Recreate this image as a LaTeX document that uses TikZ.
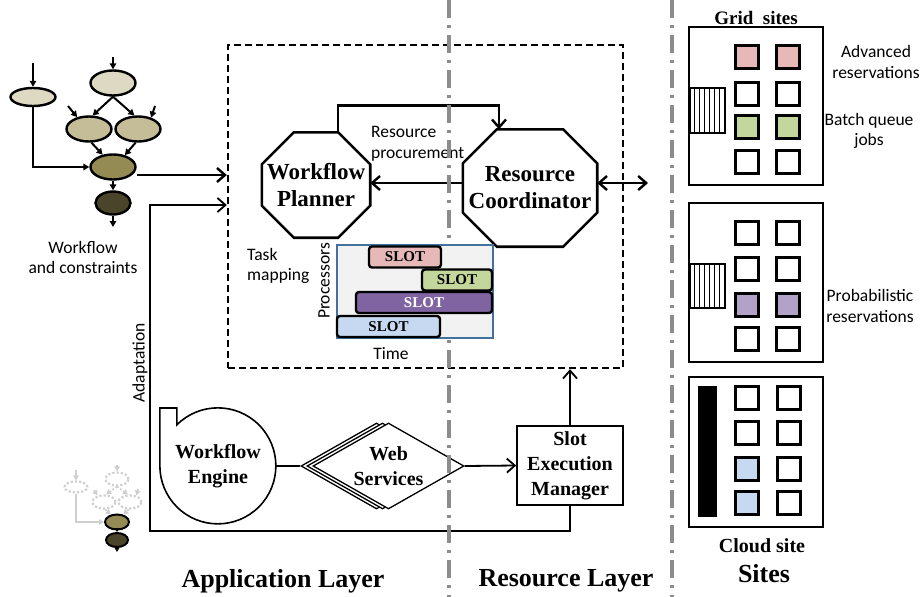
\documentclass[tikz,border=0pt]{standalone}
\usepackage{fontspec}
\setmainfont{Liberation Serif}
\newfontfamily\calibrifont{Carlito}
\usepackage{xcolor}
\usetikzlibrary{arrows.meta,positioning,calc,shapes.geometric}
\definecolor{slotpink}{HTML}{E6B9B8}
\definecolor{slotgreen}{HTML}{C3D69B}
\definecolor{slotpurple}{HTML}{8064A2}
\definecolor{slotblue}{HTML}{C6D9F1}
\definecolor{lightpurple}{HTML}{B3A2C7}
\definecolor{chartbg}{HTML}{F2F2F2}
\definecolor{chartframe}{HTML}{41719C}
\definecolor{layergray}{HTML}{8C8C8C}
\definecolor{beigeA}{HTML}{DDD9C3}
\definecolor{beigeB}{HTML}{C4BD97}
\definecolor{olive}{HTML}{948A54}
\definecolor{darkolive}{HTML}{4A452A}
\definecolor{ghostgray}{HTML}{CFCFCF}
% octagon outline round a rectangular node
\newcommand{\octframe}[2]{\draw[octline] ([xshift=#2]#1.north west) -- ([xshift=-#2]#1.north east) -- ([yshift=-#2]#1.north east) -- ([yshift=#2]#1.south east) -- ([xshift=-#2]#1.south east) -- ([xshift=#2]#1.south west) -- ([yshift=#2]#1.south west) -- ([yshift=-#2]#1.north west) -- cycle;}

\begin{document}
\begin{tikzpicture}[x=1pt,y=-1pt,>={Straight Barb[length=8pt,width=14pt]},
 sans/.style={font={\calibrifont\fontsize{17.5}{20.5}\selectfont},align=center,inner sep=0pt},
 heavy/.style={font={\bfseries\fontsize{20}{25}\selectfont},align=center},
 octnode/.style={font={\bfseries\fontsize{23}{27}\selectfont},align=center,inner sep=0pt},
 octline/.style={line width=2.6pt,line join=miter},
 layertext/.style={font={\bfseries\fontsize{26}{30}\selectfont},inner sep=0pt},
 layerline/.style={draw=layergray,line width=3.5pt,dash pattern=on 18pt off 7pt on 3pt off 7pt},
 planframe/.style={draw,line width=2.4pt,dash pattern=on 7pt off 4pt,inner sep=0pt},
 arr/.style={->,line width=2.4pt},
 arrthin/.style={->,line width=1.8pt},
 dagnode/.style={ellipse,draw,line width=2.4pt,inner sep=0pt,minimum width=45pt,minimum height=25pt},
 dagarr/.style={-{Triangle[length=6pt,width=6.5pt]},line width=2pt},
 ghost/.style={ellipse,draw=ghostgray,line width=2.2pt,dotted,inner sep=0pt,minimum width=23pt,minimum height=13pt},
 ghostarr/.style={-{Triangle[length=5pt,width=5.5pt]},draw=ghostgray,line width=1.8pt},
 slot/.style={draw,line width=2.4pt,rounded corners=3pt,font={\bfseries\fontsize{15}{18}\selectfont},inner sep=0pt,minimum height=21pt},
 site/.style={draw,line width=2pt,inner sep=0pt,minimum width=134pt},
 cell/.style={draw,line width=2.8pt,minimum size=23pt,inner sep=0pt},
 queue/.style={draw,line width=1.2pt,minimum width=35pt,minimum height=45pt,inner sep=0pt},
 flowbox/.style={draw,line width=1.6pt,heavy,inner sep=0pt},
 webshape/.style={diamond,draw,fill=white,line width=1.3pt,minimum width=151pt,minimum height=86pt,inner sep=0pt}]
\useasboundingbox (0,0) rectangle (921,597);

% planning frame
\node[planframe,minimum width=395pt,minimum height=323pt] (frame) at (425.5,206.5) {};

% planner and coordinator
\node[octnode,minimum width=108pt,minimum height=105pt] (plan) at (316,185) {Workflow\\Planner};
\octframe{plan}{32pt}
\node[octnode,minimum width=134pt,minimum height=117pt] (coord) at (530,188) {Resource\\Coordinator};
\octframe{coord}{34pt}
\draw[arr] ([xshift=22pt]plan.north) -- ++(0,-27) -| ([xshift=-31pt]coord.north);
\draw[arr] ([yshift=5pt]coord.west) -- ([yshift=5pt]coord.west -| plan.east);
\coordinate (sitelink) at (648,183);
\draw[arr,<->] ([yshift=5pt]coord.east) -- (sitelink);
\node[sans,align=left,anchor=west] (procure) at (371,144) {Resource\\procurement};

% workflow graph
\node[dagnode,fill=beigeA,minimum height=18pt] (dA) at (33,97) {};
\node[dagnode,fill=beigeA] (dB) at (113,83) {};
\node[dagnode,fill=beigeB] (dC) at (89,129) {};
\node[dagnode,fill=beigeB] (dD) at (138,129) {};
\node[dagnode,fill=olive] (dE) at (113,167) {};
\node[dagnode,fill=darkolive,minimum width=35pt,minimum height=23pt] (dF) at (113,203) {};
\coordinate (inA) at (33,63);
\coordinate (inB) at (113,57);
\coordinate (inC) at (68,106);
\coordinate (inD) at (155,106);
\coordinate (outF) at (113,227);
\draw[dagarr] (inA) -- (dA.north);
\draw[dagarr] (inB) -- (dB.north);
\draw[dagarr] (inC) -- (dC.135);
\draw[dagarr] (inD) -- (dD.41);
\draw[dagarr] (dB.south) -- (dC.75);
\draw[dagarr] (dB.south) -- (dD.105);
\draw[dagarr] (dC.-80) -- (dE.130);
\draw[dagarr] (dD.-100) -- (dE.45);
\draw[dagarr] (dA.south) |- (dE.west);
\draw[dagarr] (dE.south) -- (dF.north);
\draw[dagarr] (dF.south) -- (outF);
\node[sans] (wflbl) at (83,257.5) {Workflow\\and constraints};
\coordinate (wfout) at ([yshift=-8pt]dE.east);
\draw[arr] (wfout) -- (wfout -| frame.west);

% faded graph after adaptation
\node[ghost,minimum height=11pt] (fA) at (76,487) {};
\node[ghost] (fB) at (117,479) {};
\node[ghost] (fC) at (104,502) {};
\node[ghost] (fD) at (130,502) {};
\node[dagnode,fill=olive,line width=2pt,minimum width=24pt,minimum height=15pt] (fE) at (117,522) {};
\node[dagnode,fill=darkolive,line width=2pt,minimum width=22pt,minimum height=14pt] (fF) at (117,540) {};
\coordinate (finA) at (76,470);
\coordinate (finB) at (117,465);
\coordinate (finC) at (94,490);
\coordinate (finD) at (138,489);
\coordinate (foutF) at (117,552);
\draw[ghostarr] (finA) -- (fA.north);
\draw[ghostarr] (finB) -- (fB.north);
\draw[ghostarr] (finC) -- (fC.135);
\draw[ghostarr] (finD) -- (fD.45);
\draw[ghostarr,dotted] (fB.south) -- (fC.75);
\draw[ghostarr,dotted] (fB.south) -- (fD.105);
\draw[ghostarr,dotted] (fC.-80) -- (fE.130);
\draw[ghostarr,dotted] (fD.-100) -- (fE.50);
\draw[ghostarr] (fA.south) |- (fE.west);
\draw[-{Triangle[length=4pt,width=4.5pt]},line width=1.6pt] (fE.south) -- (fF.north);
\draw[-{Triangle[length=4pt,width=4.5pt]},line width=1.6pt] (fF.south) -- (foutF);

% execution row
\node[circle,minimum size=116pt,inner sep=0pt,heavy] (eng) at (218,466) {Workflow\\Engine};
\draw[line width=1.6pt] (eng.west) -- ++(0,-58) -- ++(17,0) -- (eng.135) arc[start angle=135,end angle=-180,radius=58pt];
\node[webshape] (web3) at (376.5,466) {};
\node[webshape] (web2) at (382.5,466) {};
\node[webshape] (web) at (388.5,466) {};
\node[heavy,inner sep=0pt] (webtxt) at (web) {Web\\Services};
\node[flowbox,minimum width=106pt,minimum height=79pt] (sem) at (570,465.5) {Slot\\Execution\\Manager};
\draw[line width=1.8pt] (eng.east) -- (web3.west);
\draw[arrthin] (web.east) -- (sem.west);
\draw[arrthin] (sem.north) -- (sem.north |- frame.south);
\coordinate (adapt) at (150,531);
\draw[arrthin] (sem.south) |- (adapt) |- ([yshift=-2pt]frame.west |- dF);
\node[sans,rotate=90] (adaptlbl) at (140,363) {Adaptation};

% layer borders
\foreach \lx in {449,672}{\draw[layerline] (\lx,0) -- (\lx,597);}

% slot chart
\node[draw=chartframe,fill=chartbg,line width=1.6pt,minimum width=156pt,minimum height=93pt,inner sep=0pt] (chart) at (415,291.5) {};
\node[slot,fill=slotpink,minimum width=72pt] (slotA) at (405,257) {SLOT};
\node[slot,fill=slotgreen,minimum width=70pt] (slotB) at (457,280) {SLOT};
\node[slot,fill=slotpurple,text=white,minimum width=136pt] (slotC) at (424,302.5) {SLOT};
\node[slot,fill=slotblue,minimum width=103pt] (slotD) at (388.5,326.5) {SLOT};
\node[sans,rotate=90] (procs) at (324,281) {Processors};
\node[sans] (timelbl) at (391,354) {Time};
\node[sans,align=left,anchor=west] (taskmap) at (247,266) {Task\\mapping};

% sites
\node[site,minimum height=158pt] (grid1) at (756,106) {};
\node[queue] (q1) at (707.5,110.5) {};
\foreach \k in {1,...,6}{\draw[line width=1pt] ([xshift=\k*5pt]q1.north west) -- ([xshift=\k*5pt]q1.south west);}
\foreach \cy/\cl [count=\r] in {57/slotpink,94/white,127/slotgreen,162/white}{
  \node[cell,fill=\cl] (ga\r) at (747,\cy) {};
  \node[cell,fill=\cl] (gb\r) at (788,\cy) {};}
\node[site,minimum height=159pt] (grid2) at (756,282.5) {};
\node[queue,minimum height=44pt] (q2) at (707.5,286) {};
\foreach \k in {1,...,6}{\draw[line width=1pt] ([xshift=\k*5pt]q2.north west) -- ([xshift=\k*5pt]q2.south west);}
\foreach \cy/\cl [count=\r] in {233/white,269/white,305/lightpurple,339/white}{
  \node[cell,fill=\cl] (pa\r) at (747,\cy) {};
  \node[cell,fill=\cl] (pb\r) at (788,\cy) {};}
\node[site,minimum height=150pt] (cloud) at (756,452) {};
\node[fill=black,minimum width=19pt,minimum height=131pt,inner sep=0pt] (vmbar) at (707.5,451.5) {};
\foreach \cy/\cl [count=\r] in {398/white,433/white,469/slotblue,503/slotblue}{
  \node[cell,fill=\cl] (ca\r) at (747,\cy) {};
  \node[cell,fill=white] (cb\r) at (789,\cy) {};}
\node[font={\bfseries\fontsize{19}{22}\selectfont},inner sep=0pt] (gridlbl) at (756,18.5) {Grid\ \ sites};
\node[sans] (advlbl) at (876,62) {Advanced\\reservations};
\node[sans] (batchlbl) at (869,131) {Batch queue\\jobs};
\node[sans] (problbl) at (870,306) {Probabilistic\\reservations};
\node[font={\bfseries\fontsize{20}{24}\selectfont},inner sep=0pt] (cloudlbl) at (762,546) {Cloud site};

% layer names
\node[layertext] (siteslbl) at (764,574) {Sites};
\node[layertext] (applbl) at (283,581) {Application Layer};
\node[layertext] (reslbl) at (566,581) {Resource Layer};
\end{tikzpicture}
\end{document}
